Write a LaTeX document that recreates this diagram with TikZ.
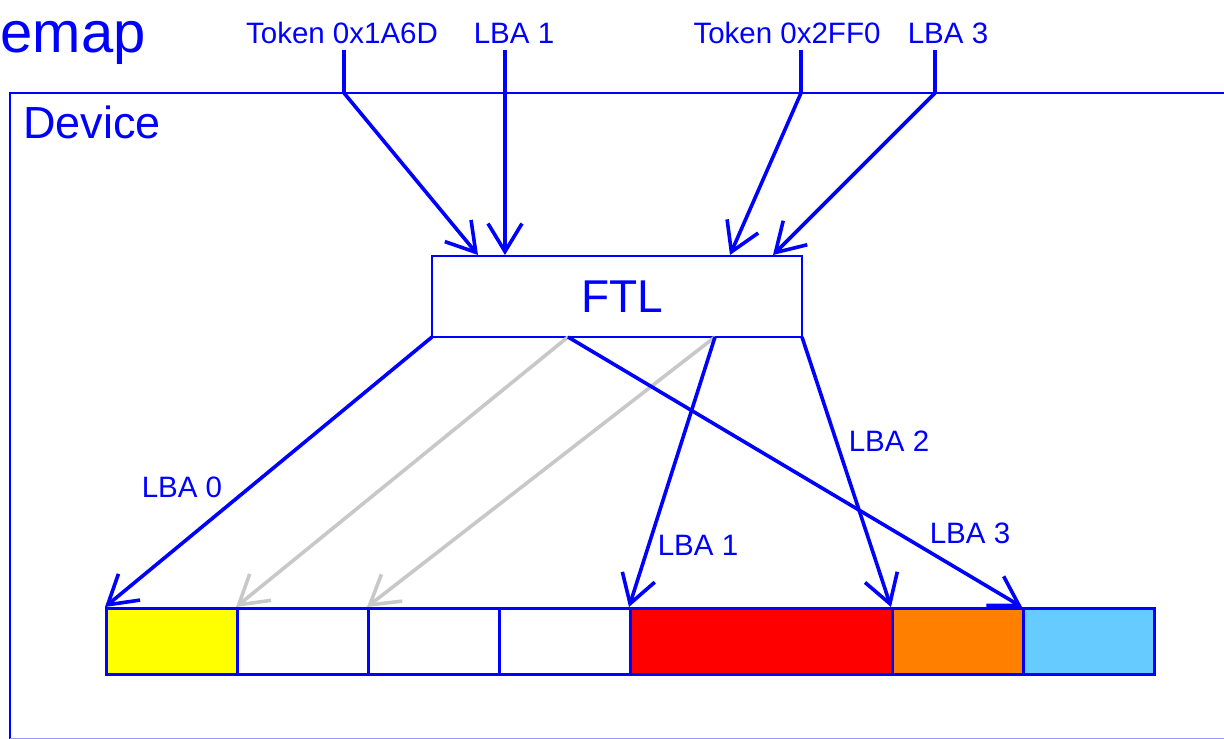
\documentclass[tikz,border=0pt]{standalone}
\usepackage{fontspec}
\setmainfont{Liberation Sans}
\usetikzlibrary{arrows.meta}
\definecolor{dblue}{RGB}{0,0,255}
\definecolor{lgray}{RGB}{200,200,200}
\definecolor{cyel}{RGB}{255,255,0}
\definecolor{cred}{RGB}{255,0,0}
\definecolor{corange}{RGB}{255,128,0}
\definecolor{clblue}{RGB}{102,204,255}
\begin{document}
\begin{tikzpicture}[x=1pt,y=-1pt,
  lbl/.style={text=dblue,font=\fontsize{29.5}{34}\selectfont,inner sep=0pt,anchor=base},
  conn/.style={draw=dblue,line width=3.6pt,-{Straight Barb[length=28pt,width=34pt,line width=3.6pt]}},
  gconn/.style={draw=lgray,line width=3.6pt,-{Straight Barb[length=28pt,width=34pt,line width=3.6pt]}},
  feed/.style={draw=dblue,line width=3.6pt},
  cell/.style={draw=dblue,line width=2.8pt,minimum height=66pt,inner sep=0pt,anchor=north west}]
\useasboundingbox (0,0) rectangle (1224,739);
% device frame
\draw[dblue,line width=2.5pt] (10,738.5) -- (10,93) -- (1240,93);
\draw[dblue!40,line width=1.5pt] (10,738.5) -- (1240,738.5);
\node[text=dblue,font=\fontsize{58}{66}\selectfont,inner sep=0pt,anchor=base west] (title) at (0.5,52.5) {emap};
\node[text=dblue,font=\fontsize{45}{50}\selectfont,inner sep=0pt,anchor=base west] (device) at (23,138.5) {Device};
% FTL
\node[draw=dblue,line width=2.8pt,minimum width=370pt,minimum height=81pt,inner sep=0pt,text=dblue,font=\fontsize{46}{50}\selectfont] (ftl) at (617,296.5) {\hspace*{10pt}FTL};
% top labels
\node[lbl] (tok1) at (342,43) {Token 0x1A6D};
\node[lbl] (lbain1) at (514,43) {LBA 1};
\node[lbl] (tok2) at (787,43) {Token 0x2FF0};
\node[lbl] (lbain3) at (948,43) {LBA 3};
\coordinate (k1) at (344,93);
\coordinate (k3) at (801,93);
\coordinate (k4) at (935,93);
\coordinate (e1) at (478,255);
\coordinate (e2) at (505,255);
\coordinate (e3) at (730,255);
\coordinate (e4) at (773,255);
\draw[feed] (344,50) -- (k1);
\draw[conn] (k1) -- (e1);
\draw[conn] (505,50) -- (e2);
\draw[feed] (801,50) -- (k3);
\draw[conn] (k3) -- (e3);
\draw[feed] (935,50) -- (k4);
\draw[conn] (k4) -- (e4);
% cells
\node[cell,fill=cyel,minimum width=131pt] (c0) at (105,607) {};
\node[cell,fill=white,minimum width=131pt] (c1) at (236,607) {};
\node[cell,fill=white,minimum width=131pt] (c2) at (367,607) {};
\node[cell,fill=white,minimum width=131pt] (c3) at (498,607) {};
\node[cell,fill=cred,minimum width=262pt] (c4) at (629,607) {};
\node[cell,fill=corange,minimum width=131pt] (c5) at (891,607) {};
\node[cell,fill=clblue,minimum width=131pt] (c6) at (1022,607) {};
% FTL out points
\coordinate (f0) at (432,337);
\coordinate (fm) at (568,337);
\coordinate (fr) at (715,337);
\coordinate (fe) at (802,337);
% gray arrows
\draw[gconn] (fm) -- (c1.north west);
\draw[gconn] (fr) -- (c2.north west);
% blue arrows
\draw[conn] (f0) -- (c0.north west);
\draw[conn] (fr) -- (c4.north west);
\draw[conn] (fe) -- (c5.north west);
\draw[conn] (fm) -- (c6.north west);
% labels
\node[lbl] (l0) at (182,497) {LBA 0};
\node[lbl] (l1) at (698,555) {LBA 1};
\node[lbl] (l2) at (889,451) {LBA 2};
\node[lbl] (l3) at (970,543) {LBA 3};
\end{tikzpicture}
\end{document}
